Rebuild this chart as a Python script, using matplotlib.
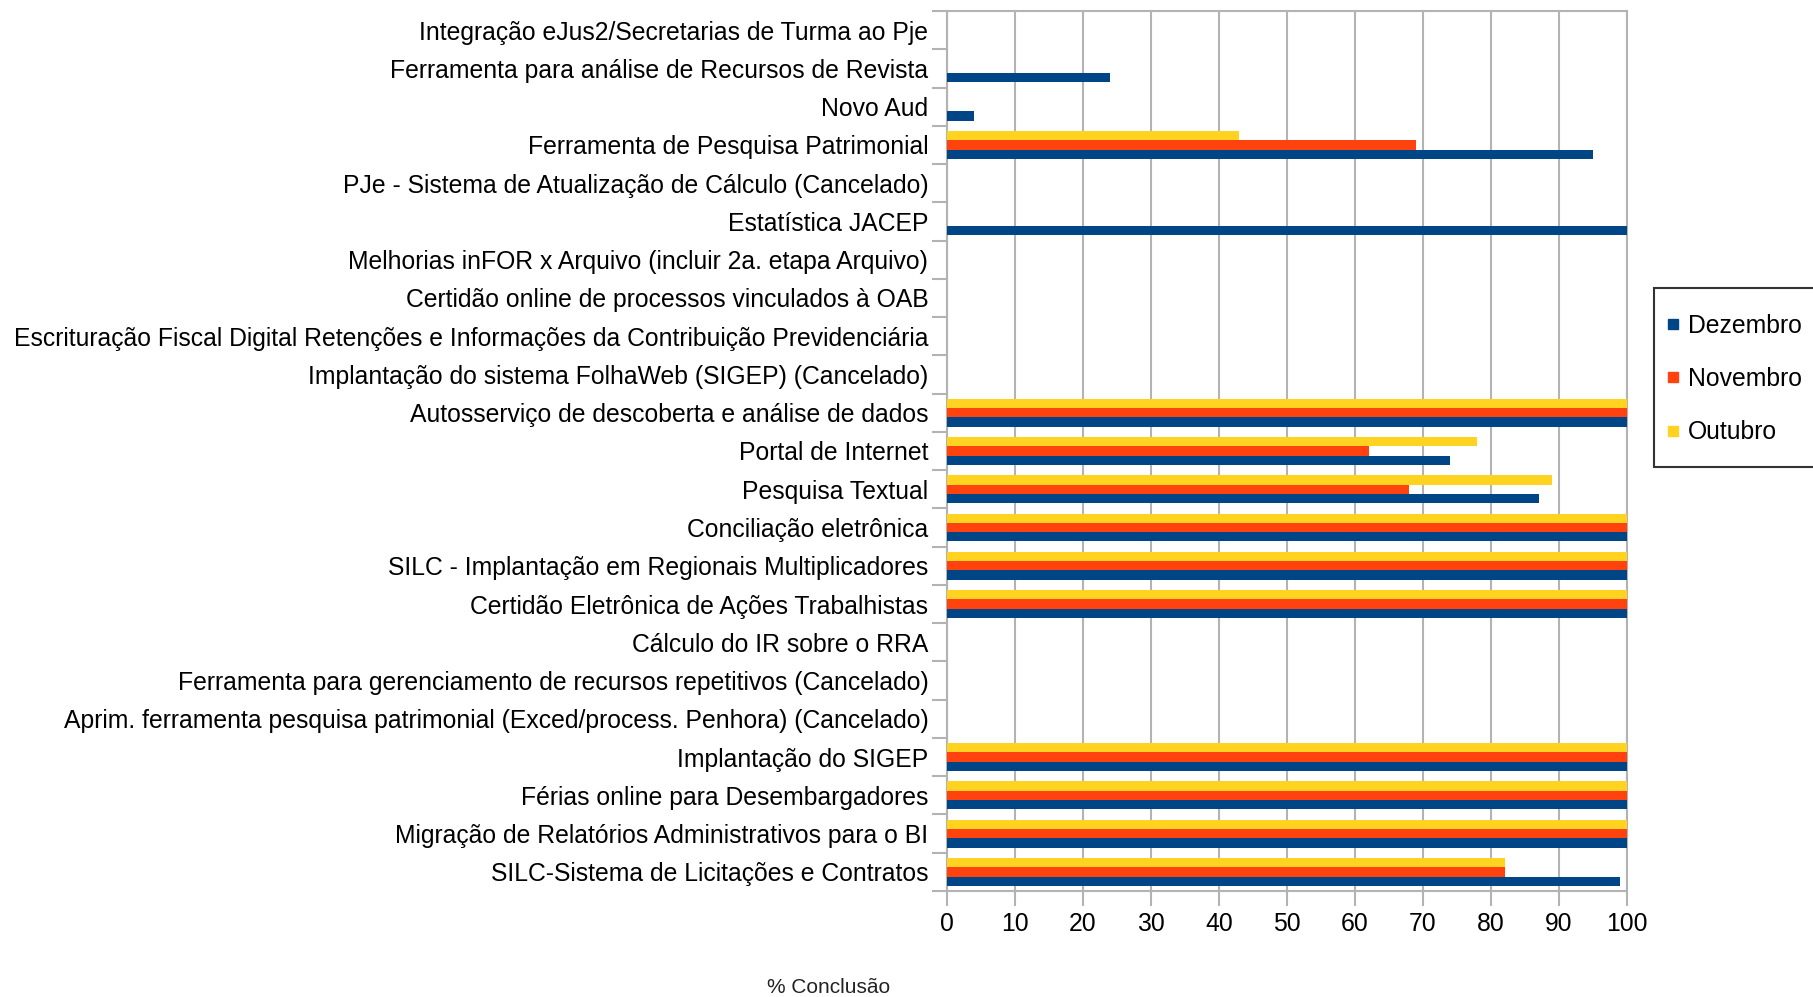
import matplotlib
matplotlib.use("Agg")
import matplotlib.pyplot as plt
from matplotlib.lines import Line2D
from matplotlib.patches import Rectangle
import numpy as np

categories = [
    "Integração eJus2/Secretarias de Turma ao Pje",
    "Ferramenta para análise de Recursos de Revista",
    "Novo Aud",
    "Ferramenta de Pesquisa Patrimonial",
    "PJe - Sistema de Atualização de Cálculo (Cancelado)",
    "Estatística JACEP",
    "Melhorias inFOR x Arquivo (incluir 2a. etapa Arquivo)",
    "Certidão online de processos vinculados à OAB",
    "Escrituração Fiscal Digital Retenções e Informações da Contribuição Previdenciária",
    "Implantação do sistema FolhaWeb (SIGEP) (Cancelado)",
    "Autosserviço de descoberta e análise de dados",
    "Portal de Internet",
    "Pesquisa Textual",
    "Conciliação eletrônica",
    "SILC - Implantação em Regionais Multiplicadores",
    "Certidão Eletrônica de Ações Trabalhistas",
    "Cálculo do IR sobre o RRA",
    "Ferramenta para gerenciamento de recursos repetitivos (Cancelado)",
    "Aprim. ferramenta pesquisa patrimonial (Exced/process. Penhora) (Cancelado)",
    "Implantação do SIGEP",
    "Férias online para Desembargadores",
    "Migração de Relatórios Administrativos para o BI",
    "SILC-Sistema de Licitações e Contratos",
]

dezembro = [0, 24, 4, 95, 0, 100, 0, 0, 0, 0, 100, 74, 87, 100, 100, 100, 0, 0, 0, 100, 100, 100, 99]
novembro = [0, 0, 0, 69, 0, 0, 0, 0, 0, 0, 100, 62, 68, 100, 100, 100, 0, 0, 0, 100, 100, 100, 82]
outubro = [0, 0, 0, 43, 0, 0, 0, 0, 0, 0, 100, 78, 89, 100, 100, 100, 0, 0, 0, 100, 100, 100, 82]

series_names = ["Dezembro", "Novembro", "Outubro"]
colors = {"Dezembro": "#004586", "Novembro": "#ff420e", "Outubro": "#ffd320"}
x_ticks = list(range(0, 101, 10))

plt.rcParams['font.family'] = ['Liberation Sans', 'DejaVu Sans']

W, H = 1813, 997
FS = 17.8
fig = plt.figure(figsize=(W / 100, H / 100), dpi=100)
ax = fig.add_axes([947 / W, 1 - 891 / H, (1627 - 947) / W, (891 - 11) / H])

y = np.arange(len(categories))
bh = 0.243
ax.barh(y - bh, outubro, height=bh, color=colors["Outubro"], zorder=3)
ax.barh(y, novembro, height=bh, color=colors["Novembro"], zorder=3)
ax.barh(y + bh, dezembro, height=bh, color=colors["Dezembro"], zorder=3)

ax.set_ylim(len(categories) - 0.5, -0.5)
ax.set_xlim(0, 100)

grid_c = "#b3b3b3"
ax.set_xticks(x_ticks)
ax.set_xticklabels([str(v) for v in x_ticks])
ax.xaxis.grid(True, color=grid_c, linewidth=1.5, zorder=0)
ax.set_axisbelow(True)

ax.set_yticks(y)
ax.set_yticklabels(categories)
ax.set_yticks(np.arange(len(categories) + 1) - 0.5, minor=True)
ax.tick_params(axis='y', which='major', length=0, pad=13.5, labelsize=FS, labelcolor="#000000")
ax.tick_params(axis='y', which='minor', length=11, width=1.5, color=grid_c)
ax.tick_params(axis='x', which='major', length=11, width=1.5, color=grid_c, pad=4,
               labelsize=FS, labelcolor="#000000")

for s in ax.spines.values():
    s.set_color(grid_c)
    s.set_linewidth(1.5)

fig.text(829 / W, 1 - 987 / H, "% Conclusão", ha="center", va="center",
         fontsize=15, color="#222222")

# legend frame
fig.patches.append(Rectangle((1654 / W, 1 - 467 / H), (1840 - 1654) / W, (467 - 288) / H,
                             transform=fig.transFigure, facecolor="white",
                             edgecolor="#333333", linewidth=1.5, zorder=5))
handles = [Line2D([], [], marker='s', linestyle='none', markersize=7.5,
                  markerfacecolor=colors[n], markeredgecolor=colors[n]) for n in series_names]
leg = fig.legend(handles, series_names, loc="center left",
                 bbox_to_anchor=(1667 / W, 1 - 379 / H), bbox_transform=fig.transFigure,
                 fontsize=FS, frameon=False, labelspacing=1.18,
                 handlelength=0.5, handletextpad=0.35, borderpad=0, borderaxespad=0)
leg.set_zorder(6)

fig.savefig("out.png", dpi=100)
